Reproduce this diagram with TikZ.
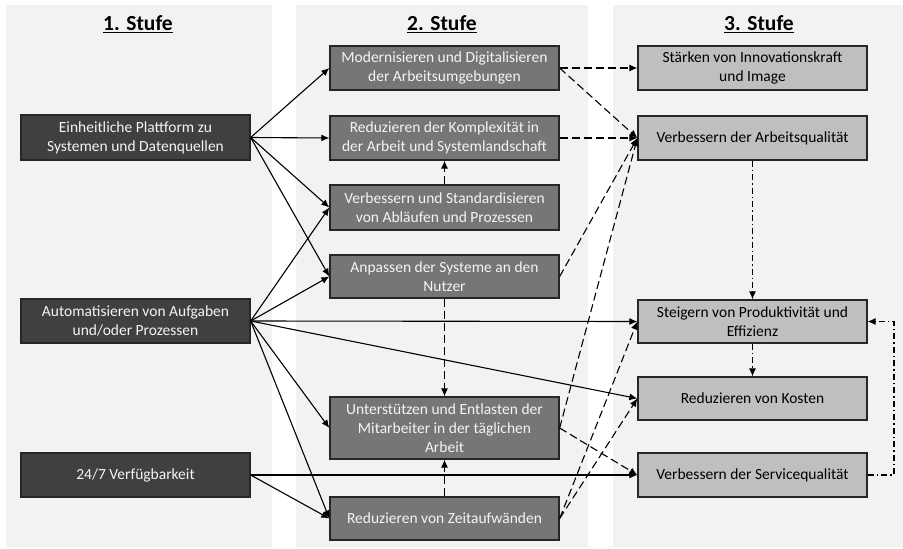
\documentclass[tikz,border=0pt]{standalone}
\usepackage{fontspec}
\setmainfont{Carlito}
\usetikzlibrary{arrows.meta,calc}
\definecolor{panelbg}{HTML}{F2F2F2}
\definecolor{darkfill}{HTML}{404040}
\definecolor{midfill}{HTML}{767676}
\definecolor{lightfill}{HTML}{BFBFBF}
\definecolor{boxline}{HTML}{262626}
\definecolor{boxtext}{HTML}{F4F4F4}
\tikzset{
  box/.style={rectangle, draw=boxline, line width=1.3pt, minimum width=229pt, align=center, inner sep=2pt,
    font=\fontsize{15.5}{19}\selectfont},
  lvlone/.style={box, fill=darkfill, text=boxtext},
  lvltwo/.style={box, fill=midfill, text=boxtext},
  lvlthree/.style={box, fill=lightfill, text=black},
  header/.style={font=\fontsize{21.5}{25}\selectfont\bfseries},
  conn/.style={draw=black, line width=1.1pt, -{Latex[length=8pt,width=7pt]}},
  dconn/.style={conn, dash pattern=on 8pt off 4pt},
  ddconn/.style={conn, dash pattern=on 6pt off 3pt on 1.5pt off 3pt},
}
\begin{document}
\begin{tikzpicture}[x=1pt,y=-1pt]
\useasboundingbox (0,0) rectangle (903,549);
\fill[white] (0,0) rectangle (903,549);
% panels
\fill[panelbg] (6,5) rectangle (272,547);
\fill[panelbg] (296,5) rectangle (588,547);
\fill[panelbg] (613,5) rectangle (903,547);
% headers
\node[header] (h1) at (138,24) {\underline{1. Stufe}};
\node[header] (h2) at (442,24) {\underline{2. Stufe}};
\node[header] (h3) at (759,24) {\underline{3. Stufe}};
% level 1
\node[lvlone, minimum height=45pt] (A) at (135.5,137.5) {Einheitliche Plattform zu\\Systemen und Datenquellen};
\node[lvlone, minimum height=44pt] (B) at (135.5,321) {Automatisieren von Aufgaben\\und/oder Prozessen};
\node[lvlone, minimum height=44pt] (C) at (135.5,475) {24/7 Verfügbarkeit};
% level 2
\node[lvltwo, minimum height=44pt] (M1) at (444.5,68) {Modernisieren und Digitalisieren\\der Arbeitsumgebungen};
\node[lvltwo, minimum height=44pt] (M2) at (444.5,138) {Reduzieren der Komplexität in\\der Arbeit und Systemlandschaft};
\node[lvltwo, minimum height=45pt] (M3) at (444.5,207.5) {Verbessern und Standardisieren\\von Abläufen und Prozessen};
\node[lvltwo, minimum height=43pt] (M4) at (444.5,276.5) {Anpassen der Systeme an den\\Nutzer};
\node[lvltwo, minimum height=62pt] (M5) at (444.5,428) {Unterstützen und Entlasten der\\Mitarbeiter in der täglichen\\Arbeit};
\node[lvltwo, minimum height=43pt] (M6) at (444.5,518.5) {Reduzieren von Zeitaufwänden};
% level 3
\node[lvlthree, minimum height=44pt] (R1) at (752.5,68) {Stärken von Innovationskraft\\und Image};
\node[lvlthree, minimum height=44pt] (R2) at (752.5,138) {Verbessern der Arbeitsqualität};
\node[lvlthree, minimum height=43pt] (R3) at (752.5,321.5) {Steigern von Produktivität und\\Effizienz};
\node[lvlthree, minimum height=43pt] (R4) at (752.5,398.5) {Reduzieren von Kosten};
\node[lvlthree, minimum height=44pt] (R5) at (752.5,475) {Verbessern der Servicequalität};
% solid connectors
\draw[conn] (A.east) -- (M1.west);
\draw[conn] (A.east) -- (M2.west);
\draw[conn] (A.east) -- (M3.west);
\draw[conn] (A.east) -- (M4.west);
\draw[conn] (B.east) -- (M3.west);
\draw[conn] (B.east) -- (M4.west);
\draw[conn] (B.east) -- (R3.west);
\draw[conn] (B.east) -- (R4.west);
\draw[conn] (B.east) -- (M5.west);
\draw[conn] (B.east) -- (M6.west);
\draw[conn] (C.east) -- (R5.west);
\draw[conn] (C.east) -- (M6.west);
% dashed connectors
\draw[dconn] (M3.north) -- (M2.south);
\draw[dconn] (M4.south) -- (M5.north);
\draw[dconn] (M6.north) -- (M5.south);
\draw[dconn] (M1.east) -- (R1.west);
\draw[dconn] (M1.east) -- (R2.west);
\draw[dconn] (M2.east) -- (R2.west);
\draw[dconn] (M4.east) -- (R2.west);
\draw[dconn] (M5.east) -- (R2.west);
\draw[dconn] (M5.east) -- (R5.west);
\draw[dconn] (M6.east) -- (R3.west);
\draw[dconn] (M6.east) -- (R4.west);
% dash-dot connectors
\draw[ddconn] (R2.south) -- (R3.north);
\draw[ddconn] (R3.south) -- (R4.north);
\coordinate (loopx) at (894,0);
\draw[ddconn] (R5.east) -- (R5.east -| loopx) |- (R3.east);
\end{tikzpicture}
\end{document}
